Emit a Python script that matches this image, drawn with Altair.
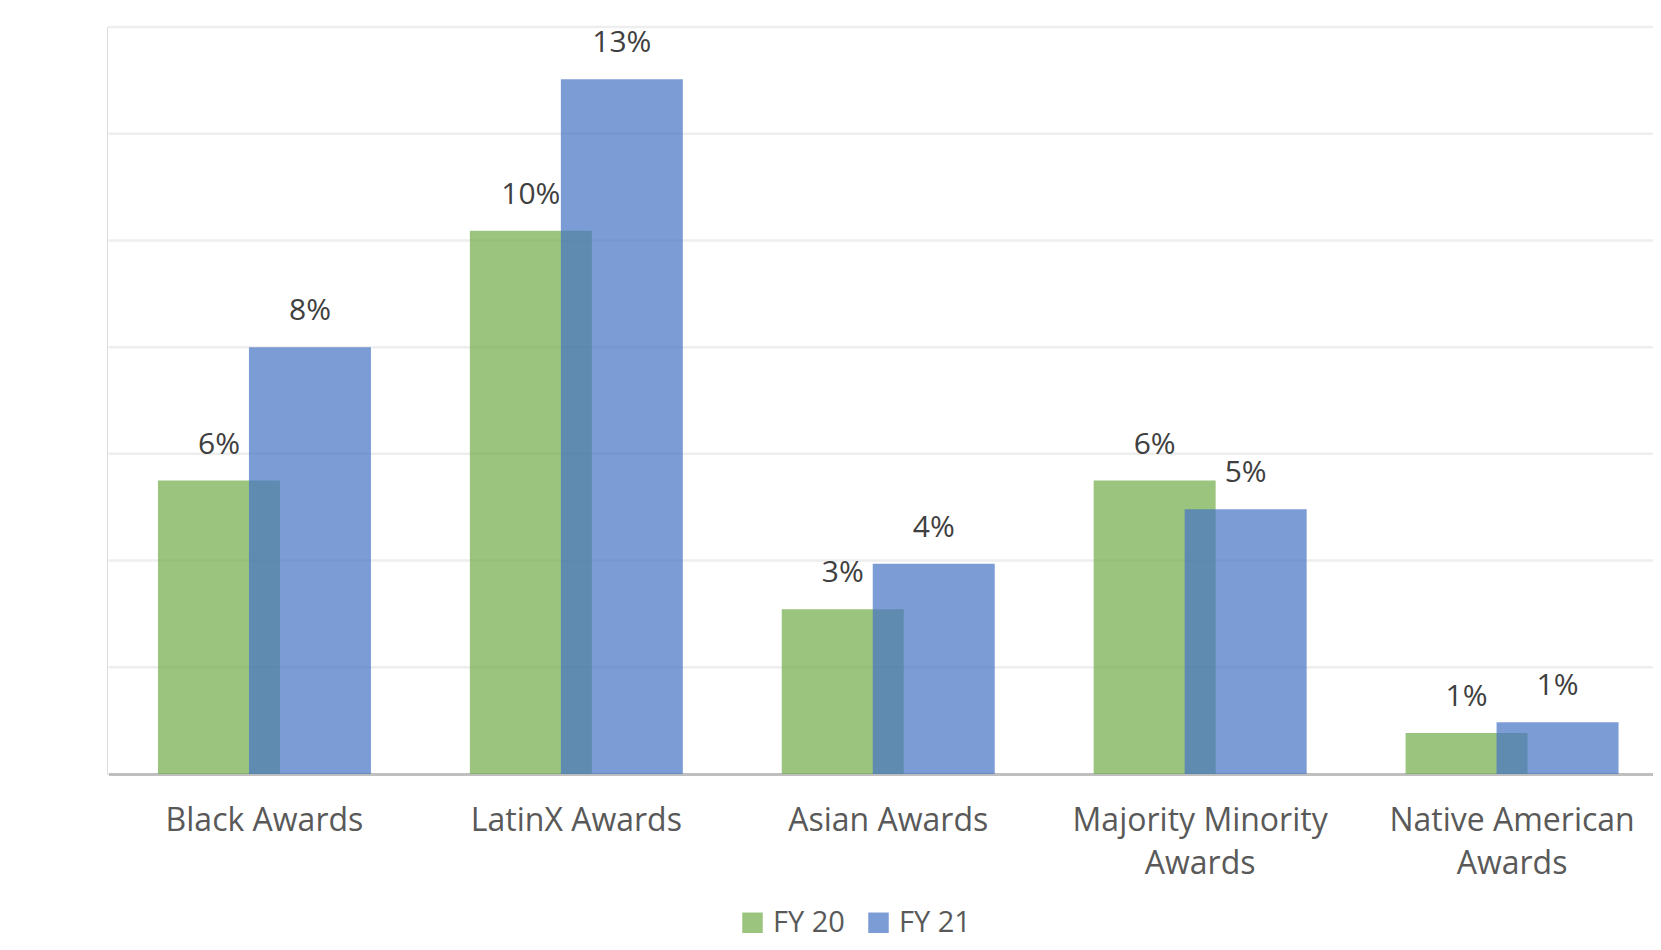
import altair as alt
import pandas as pd

categories = ["Black Awards", "LatinX Awards", "Asian Awards",
              "Majority Minority Awards", "Native American Awards"]
wrapped = {"Majority Minority Awards": ["Majority Minority", "Awards"],
           "Native American Awards": ["Native American", "Awards"]}
fy20 = [5.5, 10.18, 3.09, 5.5, 0.77]
fy21 = [8.0, 13.02, 3.94, 4.96, 0.97]
series = ["FY 20", "FY 21"]
colors = ["#70AD47", "#4472C4"]
y_ticks = [0, 2, 4, 6, 8, 10, 12, 14]

rows = []
for c, a, b in zip(categories, fy20, fy21):
    rows.append({"category": c, "series": series[0], "value": a})
    rows.append({"category": c, "series": series[1], "value": b})
df = pd.DataFrame(rows)
grid_df = pd.DataFrame({"value": y_ticks[1:]})

label_expr = ""
for k, v in wrapped.items():
    label_expr += "datum.value == '%s' ? ['%s', '%s'] : " % (k, v[0], v[1])
label_expr += "datum.value"

FONT = "Open Sans"
W, H = 1546, 747

x_enc = alt.X("category:N", sort=categories,
              scale=alt.Scale(range=[1.5, 1561], paddingInner=0, paddingOuter=0),
              axis=alt.Axis(title=None, labelAngle=0, labelExpr=label_expr,
                            ticks=False, grid=False, domain=True, domainColor="#BFBFBF",
                            domainWidth=3, labelPadding=31, labelFontSize=32,
                            labelColor="#595959", labelLineHeight=43,
                            labelBaseline="top", labelFont=FONT, labelLimit=1000))
y_scale = alt.Scale(domain=[0, 14], nice=False)
y_enc = alt.Y("value:Q", scale=y_scale,
              axis=alt.Axis(title=None, values=y_ticks, labelExpr="datum.value + '%'",
                            domain=False, ticks=False, grid=False,
                            labelPadding=35, labelFontSize=30,
                            labelColor="#595959", labelFont=FONT, labelOffset=-1))

color_enc = alt.Color("series:N",
                      scale=alt.Scale(domain=series, range=colors),
                      legend=alt.Legend(title=None, orient="none", legendX=631,
                                        legendY=881, direction="horizontal",
                                        symbolType="square", symbolSize=420,
                                        symbolOpacity=0.7, symbolStrokeWidth=0,
                                        labelFontSize=29, labelColor="#595959",
                                        labelFont=FONT, labelOffset=6,
                                        columnPadding=19, padding=0))

grid = alt.Chart(grid_df).mark_rule(color="#EEEEEE", strokeWidth=2.5).encode(
    y=alt.Y("value:Q", scale=y_scale, axis=None),
    x=alt.value(1.5), x2=alt.value(W))

base = alt.Chart(df)
offsets = [-45.5, 45.5]
layers = [grid]
for s, off in zip(series, offsets):
    layers.append(base.transform_filter(alt.datum.series == s)
                  .mark_bar(width=122, xOffset=off, opacity=0.7)
                  .encode(x=x_enc, y=y_enc, color=color_enc))
for s, off in zip(series, offsets):
    layers.append(base.transform_filter(alt.datum.series == s)
                  .transform_calculate(lbl="format(datum.value, '.0f') + '%'")
                  .mark_text(xOffset=off, dy=-27, baseline="alphabetic",
                             fontSize=30, color="#404040", font=FONT)
                  .encode(x=x_enc, y=y_enc, text="lbl:N"))

chart = alt.layer(*layers).properties(
    width=W, height=H,
    autosize=alt.AutoSizeParams(type="none"),
    padding={"left": 99, "top": 19, "right": 0, "bottom": 168},
).configure_view(stroke=None, strokeWidth=0
).configure(font=FONT, background="white")

chart.save("out.html", embed_options={"renderer": "svg", "actions": False})
